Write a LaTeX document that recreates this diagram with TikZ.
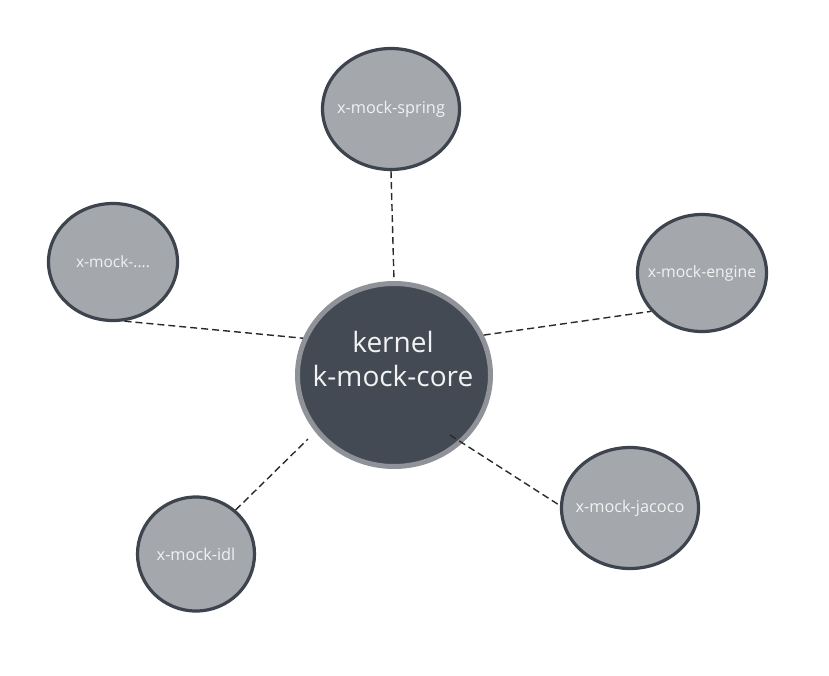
\documentclass[tikz,border=0pt]{standalone}
\usepackage{fontspec}
\setmainfont{Open Sans}
\usetikzlibrary{shapes.geometric}
\definecolor{darkfill}{HTML}{434A54}
\definecolor{coreedge}{HTML}{8F9399}
\definecolor{satfill}{HTML}{A4A7AB}
\definecolor{satedge}{HTML}{3E444D}
\definecolor{txt}{HTML}{F2F2F2}
\definecolor{linec}{HTML}{2A2A2A}
\tikzset{
  sat/.style={ellipse, draw=satedge, line width=3.2pt, fill=satfill, text=txt, inner xsep=-20pt, inner ysep=0pt, font=\fontsize{16.3}{18}\selectfont},
  core/.style={ellipse, draw=coreedge, line width=5pt, fill=darkfill, inner sep=0pt},
  coretext/.style={text=txt, align=center, inner sep=0pt, font=\fontsize{28}{34}\selectfont},
  conn/.style={draw=linec, line width=1.4pt, dash pattern=on 7pt off 4pt},
}
\begin{document}
\begin{tikzpicture}[x=1pt,y=-1pt]
\useasboundingbox[fill=white] (0,0) rectangle (829,675);
\node[core, minimum width=193pt, minimum height=183pt] (kcore) at (394,375) {};
\node[coretext] (ktext) at (393,359) {kernel\\k-mock-core};
\node[sat, minimum width=137pt, minimum height=121pt] (spring) at (391,109) {x-mock-spring};
\node[sat, minimum width=129pt, minimum height=117pt, font=\fontsize{15.5}{18}\selectfont] (xdots) at (113,262) {x-mock-....};
\node[sat, minimum width=129pt, minimum height=117pt, font=\fontsize{15.8}{18}\selectfont] (engine) at (702,273) {x-mock-engine};
\node[sat, minimum width=137pt, minimum height=121pt] (jacoco) at (630,508) {x-mock-jacoco};
\node[sat, minimum width=117pt, minimum height=114pt] (idl) at (196,554) {x-mock-idl};
\coordinate (idlend) at (308,439);
\coordinate (jacend) at (450,435);
\draw[conn] (spring.south) -- (kcore.north);
\draw[conn] (xdots.-79) -- (kcore.158);
\draw[conn] (kcore.24) -- (engine.217);
\draw[conn] (idl.48) -- (idlend);
\draw[conn] (jacend) -- (jacoco.178);
\end{tikzpicture}
\end{document}
